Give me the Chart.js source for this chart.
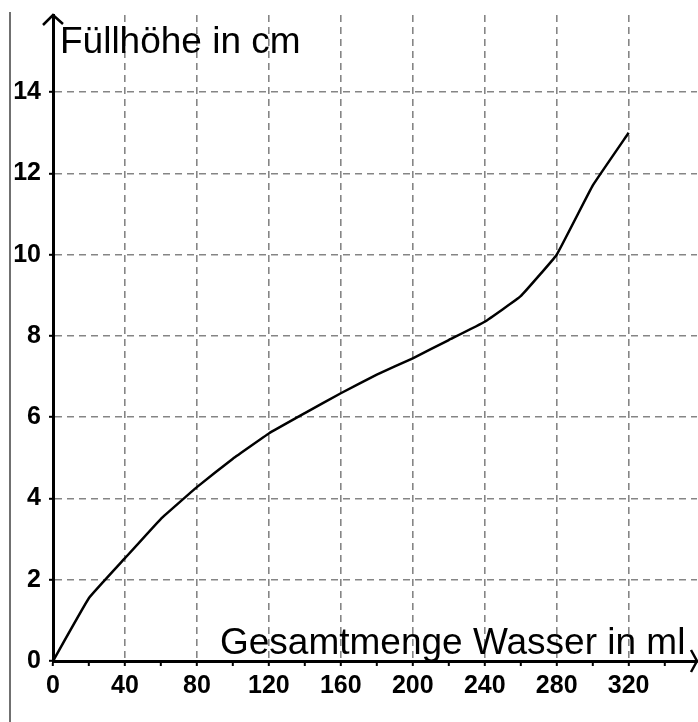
<!DOCTYPE html>
<html>
<head>
<meta charset="utf-8">
<script src="https://cdn.jsdelivr.net/npm/chart.js@4"></script>
<style>
html,body{margin:0;padding:0;background:#fff;}
#wrap{width:698px;height:722px;position:relative;}
</style>
</head>
<body>
<div id="wrap"><canvas id="c" width="698" height="722"></canvas></div>
<script>
// Data
const waterMl = [0, 20, 40, 60, 80, 100, 120, 140, 160, 180, 200, 220, 240, 260, 280, 300, 320];
const heightCm = [0, 1.55, 2.53, 3.5, 4.28, 4.98, 5.6, 6.1, 6.59, 7.05, 7.45, 7.9, 8.35, 8.98, 10.0, 11.7, 13.0];
const xTickLabels = ['0', '40', '80', '120', '160', '200', '240', '280', '320'];
const yTickLabels = ['0', '2', '4', '6', '8', '10', '12', '14'];
const yAxisTitle = 'Füllhöhe in cm';
const xAxisTitle = 'Gesamtmenge Wasser in ml';

const FONT = '"Liberation Sans", Arial, sans-serif';
const GRID = '#858585';

const decorations = {
  id: 'decorations',
  afterDraw(chart) {
    const ctx = chart.ctx;
    const xs = chart.scales.x, ys = chart.scales.y;
    const x0 = xs.getPixelForValue(0), y0 = ys.getPixelForValue(0);
    const top = chart.chartArea.top, right = chart.chartArea.right;
    ctx.save();
    // left grey border line
    ctx.strokeStyle = '#707070';
    ctx.lineWidth = 2;
    ctx.beginPath(); ctx.moveTo(10, 12); ctx.lineTo(10, 722); ctx.stroke();
    // arrows
    ctx.strokeStyle = '#000';
    ctx.lineWidth = 2.5;
    ctx.beginPath();
    ctx.moveTo(x0 - 10, top + 10); ctx.lineTo(x0, top); ctx.lineTo(x0 + 10, top + 9);
    ctx.stroke();
    ctx.beginPath();
    ctx.moveTo(right - 6, y0 - 11); ctx.lineTo(right, y0); ctx.lineTo(right - 6, y0 + 11);
    ctx.stroke();
    // axis titles
    ctx.fillStyle = '#000';
    ctx.font = '37px ' + FONT;
    ctx.textBaseline = 'alphabetic';
    ctx.textAlign = 'left';
    ctx.fillText(yAxisTitle, x0 + 7, 53);
    ctx.fillText(xAxisTitle, 220, 654);
    ctx.restore();
  }
};

new Chart(document.getElementById('c'), {
  type: 'line',
  data: {
    datasets: [{
      data: waterMl.map((x, i) => ({x: x, y: heightCm[i]})),
      borderColor: '#000',
      borderWidth: 2.5,
      pointRadius: 0,
      tension: 0.08,
      fill: false
    }]
  },
  options: {
    responsive: false,
    animation: false,
    events: [],
    layout: {padding: {top: 15, right: 1, left: 0, bottom: 0}},
    plugins: {legend: {display: false}, tooltip: {enabled: false}},
    scales: {
      x: {
        type: 'linear',
        min: 0, max: 358,
        afterFit(s) { s.height = 61; s.paddingLeft = 0; s.paddingRight = 0; },
        ticks: {
          stepSize: 20,
          includeBounds: false,
          autoSkip: false,
          maxRotation: 0,
          padding: 5,
          color: '#000',
          font: {family: FONT, size: 25, weight: 'bold'},
          callback: (v) => (v % 40 === 0 ? xTickLabels[v / 40] : '')
        },
        grid: {
          color: (c) => (c.tick && c.tick.value % 40 === 0 && c.tick.value > 0 ? GRID : 'rgba(0,0,0,0)'),
          lineWidth: 1.6,
          drawTicks: true,
          tickLength: 5,
          tickColor: '#000',
          tickWidth: 2
        },
        border: {display: true, color: '#000', width: 3, dash: [7, 5]}
      },
      y: {
        type: 'linear',
        min: 0, max: 15.9,
        afterFit(s) { s.width = 53; s.paddingTop = 0; s.paddingBottom = 0; },
        ticks: {
          stepSize: 2,
          includeBounds: false,
          autoSkip: false,
          padding: 8,
          color: '#000',
          font: {family: FONT, size: 25, weight: 'bold'},
          callback: (v) => yTickLabels[v / 2]
        },
        grid: {
          color: (c) => (c.tick && c.tick.value > 0 ? GRID : 'rgba(0,0,0,0)'),
          lineWidth: 1.6,
          drawTicks: true,
          tickLength: 4,
          tickColor: '#000',
          tickWidth: 2
        },
        border: {display: true, color: '#000', width: 3, dash: [7, 5]}
      }
    }
  },
  plugins: [decorations]
});
</script>
</body>
</html>
